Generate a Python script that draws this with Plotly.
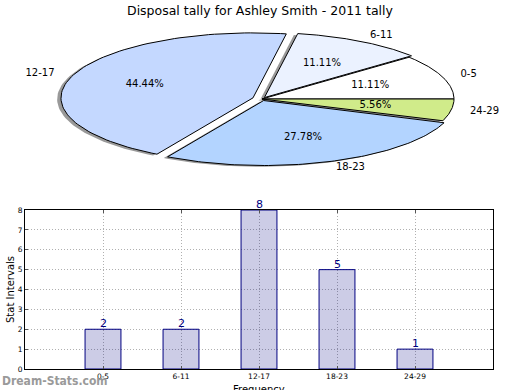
import numpy as np
import plotly.graph_objects as go

# ---- data ----
categories = ["0-5", "6-11", "12-17", "18-23", "24-29"]
counts = [2, 2, 8, 5, 1]
slice_colors = ["#FFFFFF", "#EBF2FF", "#C4D8FF", "#B3D4FF", "#D0EB8A"]
explode = [0.0, 0.025, 0.05, 0.025, 0.0]
title_text = "Disposal tally for Ashley Smith - 2011 tally"
y_ticks = list(range(0, 9))

W, H = 520, 390
fig = go.Figure()

# ---- pie (elliptical, drawn on its own axes) ----
total = sum(counts)
fracs = [c / total for c in counts]
starts = np.concatenate([[0], np.cumsum(fracs)[:-1]]) * 360
ends = np.cumsum(fracs) * 360

polys = []
for i, (t1, t2) in enumerate(zip(starts, ends)):
    mid = np.deg2rad((t1 + t2) / 2)
    ox, oy = explode[i] * np.cos(mid), explode[i] * np.sin(mid)
    th = np.deg2rad(np.linspace(t1, t2, 90))
    px = np.concatenate([[ox], ox + np.cos(th), [ox]])
    py = np.concatenate([[oy], oy + np.sin(th), [oy]])
    polys.append((px, py, mid, ox, oy))

# shadows
for px, py, mid, ox, oy in polys:
    fig.add_trace(go.Scatter(x=px - 0.02, y=py - 0.02, fill="toself", mode="lines",
                             line=dict(width=0), fillcolor="rgba(70,70,70,0.55)",
                             xaxis="x2", yaxis="y2", hoverinfo="skip", showlegend=False))
# slices
for i, (px, py, mid, ox, oy) in enumerate(polys):
    fig.add_trace(go.Scatter(x=px, y=py, fill="toself", mode="lines",
                             line=dict(color="black", width=1), fillcolor=slice_colors[i],
                             xaxis="x2", yaxis="y2", hoverinfo="skip", showlegend=False))
# labels & percentages
for i, (px, py, mid, ox, oy) in enumerate(polys):
    lx, ly = ox + 1.1 * np.cos(mid), oy + 1.1 * np.sin(mid)
    pos = "middle right" if np.cos(mid) > 0 else "middle left"
    fig.add_trace(go.Scatter(x=[lx], y=[ly], mode="text", text=[categories[i]],
                             textposition=pos, textfont=dict(size=10, color="black"),
                             xaxis="x2", yaxis="y2", cliponaxis=False, hoverinfo="skip",
                             showlegend=False))
    tx, ty = ox + 0.6 * np.cos(mid), oy + 0.6 * np.sin(mid)
    fig.add_trace(go.Scatter(x=[tx], y=[ty], mode="text", text=["%.2f%%" % (fracs[i] * 100)],
                             textposition="middle center", textfont=dict(size=10, color="black"),
                             xaxis="x2", yaxis="y2", cliponaxis=False, hoverinfo="skip",
                             showlegend=False))

# pie axes geometry (pixels): centre (262, 99), rx 192, ry 65
cx, cy, rx, ry = 262, 99, 192, 65
top_px, bot_px = 20, 195
x0 = -cx / rx
x1 = x0 + W / rx
y1 = (cy - top_px) / ry
y0 = y1 - (bot_px - top_px) / ry

# ---- bar chart ----
fig.add_trace(go.Bar(x=categories, y=counts, width=0.46,
                     marker=dict(color="rgba(0,0,128,0.2)", line=dict(color="#000080", width=1)),
                     xaxis="x", yaxis="y", showlegend=False, hoverinfo="skip"))

value_annots = [dict(text=str(c), x=cat, y=c, xref="x", yref="y", showarrow=False,
                     yanchor="bottom", xanchor="center", yshift=-3,
                     font=dict(size=11, color="#000080"))
                for cat, c in zip(categories, counts)]

font = "DejaVu Sans, Verdana, sans-serif"
axis_common = dict(showline=True, linecolor="black", linewidth=1, mirror="ticks",
                   ticks="inside", ticklen=3, tickcolor="#555", automargin=False,
                   showgrid=True, gridcolor="#b0b0b0", griddash="1px,2px", gridwidth=1,
                   tickfont=dict(size=7.5, color="black"), zeroline=False)
fig.update_layout(
    template="none",
    width=W, height=H,
    margin=dict(l=0, r=0, t=0, b=0, pad=0, autoexpand=False),
    paper_bgcolor="white", plot_bgcolor="rgba(0,0,0,0)",
    font=dict(family=font, color="black"),
    xaxis2=dict(domain=[0, 1], range=[x0, x1], visible=False, fixedrange=True, automargin=False),
    yaxis2=dict(domain=[1 - bot_px / H, 1 - top_px / H], range=[y0, y1], visible=False,
                fixedrange=True, anchor="x2", automargin=False),
    xaxis=dict(domain=[25 / W, 493 / W], range=[-1, 5], anchor="y", **axis_common),
    yaxis=dict(domain=[1 - 369 / H, 1 - 210 / H], range=[0, 8], anchor="x",
               tickvals=y_ticks, **axis_common),
    annotations=value_annots + [
        dict(text=title_text, x=0.5, y=1 - 10 / H, xref="paper", yref="paper",
             showarrow=False, font=dict(size=12.5, color="black"), xanchor="center", yanchor="middle"),
        dict(text="Stat Intervals", x=10 / W, y=1 - 290 / H, xref="paper", yref="paper",
             showarrow=False, textangle=-90, font=dict(size=10, color="black"),
             xanchor="center", yanchor="middle"),
        dict(text="Frequency", x=259 / W, y=1 - 389 / H, xref="paper", yref="paper",
             showarrow=False, font=dict(size=10, color="black"), xanchor="center", yanchor="middle"),
        dict(text="<b>Dream-Stats.com</b>", x=0, y=1 - 381 / H, xref="paper", yref="paper",
             showarrow=False, font=dict(size=12, color="#9a9a9a", family="DejaVu Sans Condensed"),
             xanchor="left", yanchor="middle"),
    ],
)

fig.write_html("out.html", config={"displayModeBar": False, "staticPlot": True},
               post_script="document.body.style.margin='0px';document.body.style.overflow='hidden';")
